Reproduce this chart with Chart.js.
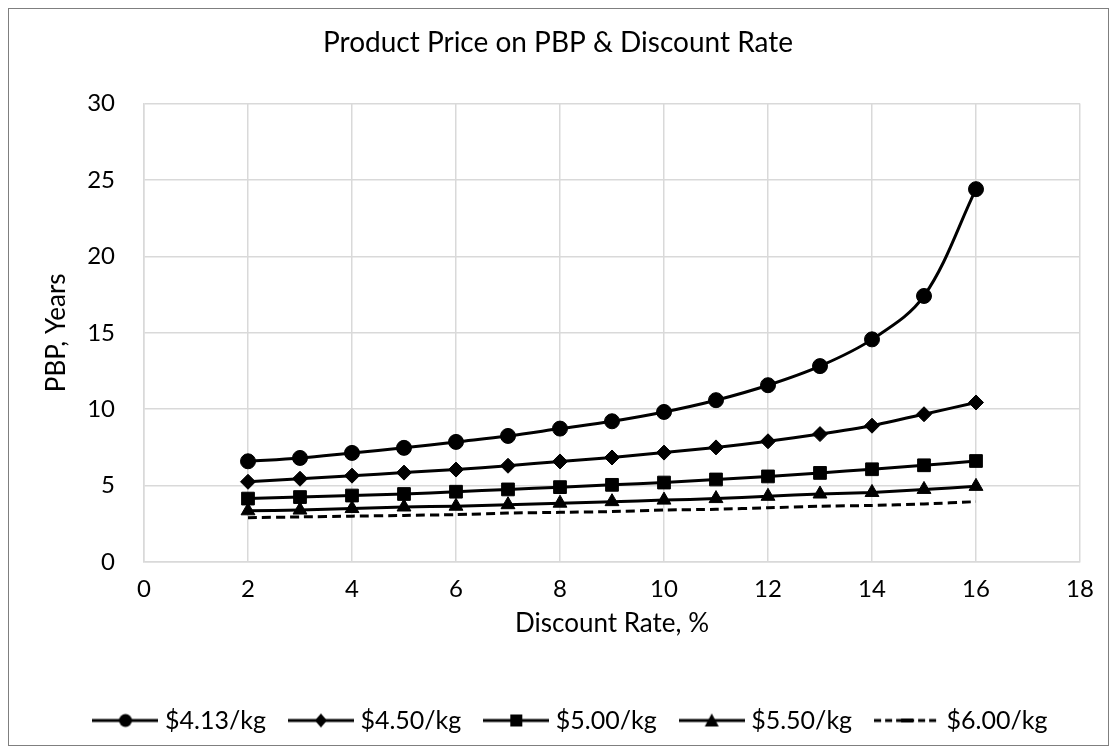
<!DOCTYPE html>
<html>
<head>
<meta charset="utf-8">
<script src="https://cdn.jsdelivr.net/npm/chart.js@4.4.1/dist/chart.umd.min.js"></script>
<style>
  html, body { margin: 0; padding: 0; background: #fff; }
  #frame { position: absolute; left: 8px; top: 8px; width: 1101px; height: 738px; border: 1px solid #7f7f7f; box-sizing: border-box; }
  #wrap { position: absolute; left: 0; top: 0; width: 1117px; height: 753px; }
</style>
</head>
<body>
<div id="frame"></div>
<div id="wrap"><canvas id="pbpChart" width="1117" height="753"></canvas></div>
<script>
// discount rate (%) vs payback period (years) for each product price
const discountRates = [2, 3, 4, 5, 6, 7, 8, 9, 10, 11, 12, 13, 14, 15, 16];
const pbp413 = [6.59, 6.81, 7.14, 7.47, 7.86, 8.25, 8.73, 9.21, 9.82, 10.59, 11.57, 12.82, 14.57, 17.41, 24.4];
const pbp450 = [5.25, 5.45, 5.65, 5.85, 6.05, 6.3, 6.58, 6.84, 7.16, 7.5, 7.9, 8.37, 8.92, 9.67, 10.44];
const pbp500 = [4.15, 4.25, 4.35, 4.45, 4.6, 4.75, 4.9, 5.05, 5.2, 5.4, 5.6, 5.83, 6.07, 6.33, 6.61];
const pbp550 = [3.35, 3.4, 3.5, 3.6, 3.65, 3.75, 3.85, 3.95, 4.05, 4.15, 4.3, 4.45, 4.55, 4.75, 4.95];
const pbp600 = [2.9, 2.95, 3.0, 3.05, 3.1, 3.2, 3.25, 3.3, 3.4, 3.45, 3.55, 3.65, 3.7, 3.8, 3.95];
const seriesNames = ['$4.13/kg', '$4.50/kg', '$5.00/kg', '$5.50/kg', '$6.00/kg'];

const FONT = 'Lato, "Open Sans", sans-serif';
const GRID = '#d9d9d9';

function toXY(vals) {
  return vals.map((v, i) => ({ x: discountRates[i], y: v }));
}

// legend swatch: short line with the marker in the middle
function swatch(style, dashed) {
  const c = document.createElement('canvas');
  c.width = 66; c.height = 18;
  const g = c.getContext('2d');
  const cx = 33, cy = 9;
  g.strokeStyle = '#000';
  g.fillStyle = '#000';
  g.lineWidth = 3;
  if (dashed) g.setLineDash([7, 4]);
  g.beginPath(); g.moveTo(0, cy); g.lineTo(66, cy); g.stroke();
  g.setLineDash([]);
  g.beginPath();
  if (style === 'circle') {
    g.arc(cx, cy, 6.5, 0, Math.PI * 2); g.fill();
  } else if (style === 'rectRot') {
    g.moveTo(cx, cy - 7); g.lineTo(cx + 6, cy); g.lineTo(cx, cy + 7); g.lineTo(cx - 6, cy); g.closePath(); g.fill();
  } else if (style === 'rect') {
    g.rect(cx - 6, cy - 6, 12, 12); g.fill();
  } else if (style === 'triangle') {
    g.moveTo(cx, cy - 7); g.lineTo(cx + 7, cy + 6); g.lineTo(cx - 7, cy + 6); g.closePath(); g.fill();
  } else {
    g.lineWidth = 4; g.moveTo(cx - 6, cy); g.lineTo(cx + 6, cy); g.stroke();
  }
  return c;
}

const styles = ['circle', 'rectRot', 'rect', 'triangle', 'line'];
const radii = [7.5, 7.5, 9, 8, 0];
const allSeries = [pbp413, pbp450, pbp500, pbp550, pbp600];

const datasets = allSeries.map((vals, i) => ({
  label: seriesNames[i],
  data: toXY(vals),
  borderColor: '#000',
  backgroundColor: '#000',
  borderWidth: 3,
  borderDash: i === 4 ? [9, 5] : [],
  pointStyle: styles[i],
  pointRadius: radii[i],
  pointBackgroundColor: '#000',
  pointBorderColor: '#000',
  pointBorderWidth: 1,
  tension: i === 0 ? 0.35 : 0.2,
  fill: false
}));

// the legend sits a little right of centre
const legendNudge = {
  id: 'legendNudge',
  afterLayout(chart) {
    chart.legend.left += 15;
    chart.legend.right += 15;
  }
};

new Chart(document.getElementById('pbpChart'), {
  type: 'line',
  data: { datasets: datasets },
  plugins: [legendNudge],
  options: {
    responsive: false,
    animation: false,
    layout: { padding: { left: 36, right: 37, top: 0, bottom: 10 } },
    plugins: {
      title: {
        display: true,
        text: 'Product Price on PBP & Discount Rate',
        color: '#000',
        font: { family: FONT, size: 28, weight: 'normal' },
        padding: { top: 26, bottom: 44 }
      },
      legend: {
        position: 'bottom',
        labels: {
          color: '#000',
          font: { family: FONT, size: 25 },
          usePointStyle: true,
          pointStyleWidth: 54,
          boxHeight: 16,
          padding: 28,
          generateLabels: (chart) => chart.data.datasets.map((ds, i) => ({
            text: ds.label,
            pointStyle: swatch(styles[i], i === 4),
            fillStyle: '#000',
            strokeStyle: '#000',
            lineWidth: 0,
            hidden: false,
            datasetIndex: i,
            fontColor: '#000'
          }))
        }
      },
      tooltip: { enabled: false }
    },
    scales: {
      x: {
        type: 'linear',
        min: 0,
        max: 18,
        ticks: { stepSize: 2, color: '#000', font: { family: FONT, size: 24 }, padding: 13 },
        grid: { color: GRID, lineWidth: 1.5, drawTicks: false },
        border: { color: GRID, width: 1.5 },
        title: {
          display: true,
          text: 'Discount Rate, %',
          color: '#000',
          font: { family: FONT, size: 26 },
          padding: { top: 10, bottom: 41 }
        },
        afterFit: (scale) => { scale.height = 118; }
      },
      y: {
        min: 0,
        max: 30,
        ticks: { stepSize: 5, color: '#000', font: { family: FONT, size: 24 }, padding: 29 },
        grid: { color: GRID, lineWidth: 1.5, drawTicks: false },
        border: { color: GRID, width: 1.5 },
        title: {
          display: true,
          text: 'PBP, Years',
          color: '#000',
          font: { family: FONT, size: 26 },
          padding: { top: 5, bottom: 0 }
        },
        afterFit: (scale) => { scale.width = 108; }
      }
    }
  }
});
</script>
</body>
</html>
